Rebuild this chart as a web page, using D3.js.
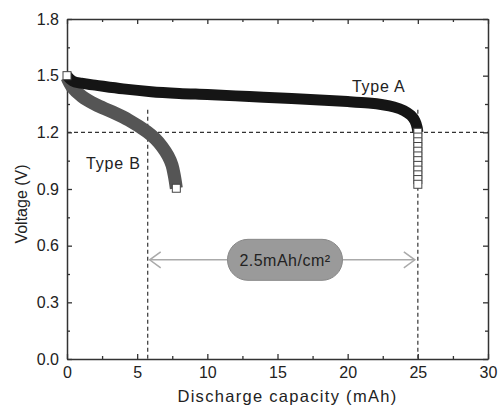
<!DOCTYPE html>
<html>
<head>
<meta charset="utf-8">
<script src="https://cdn.jsdelivr.net/npm/d3@7"></script>
<style>
  body { margin: 0; background: #fff; }
  text { font-family: Arial, "Liberation Sans", sans-serif; fill: #222; }
</style>
</head>
<body>
<div id="chart"></div>
<script>
// discharge curves: [capacity mAh, voltage V]
const typeA = [[0,1.50],[0.4,1.472],[1,1.46],[2,1.45],[4,1.43],[6,1.415],[8,1.406],[10,1.40],
  [12,1.393],[14,1.386],[16,1.379],[18,1.371],[20,1.363],[21.5,1.355],[22.5,1.346],[23.3,1.334],
  [24,1.315],[24.5,1.29],[24.8,1.26],[24.95,1.225],[25,1.2]];
const typeAtail = [1.2,1.175,1.15,1.125,1.1,1.075,1.05,1.025,1.0,0.975,0.95,0.925];
const typeB = [[0,1.49],[0.36,1.44],[1.07,1.39],[2.02,1.348],[3.2,1.309],[4.4,1.265],[5.7,1.203],
  [6.3,1.165],[6.77,1.124],[7.2,1.075],[7.48,1.027],[7.65,0.97],[7.79,0.904]];

const xTicks = [0,5,10,15,20,25,30];
const yTicks = [0.0,0.3,0.6,0.9,1.2,1.5,1.8];
const cutoffV = 1.2;
const capB = 5.75, capA = 25;
const bracketV = 0.525;
const bracketLabel = "2.5mAh/cm²";

const width = 499, height = 414;
const margin = {top: 19, right: 11, bottom: 55, left: 67};

const svg = d3.select("#chart").append("svg")
  .attr("width", width)
  .attr("height", height);

const x = d3.scaleLinear().domain([0, 30]).range([margin.left, width - margin.right]);
const y = d3.scaleLinear().domain([0, 1.8]).range([height - margin.bottom, margin.top]);

const axisCol = "#333";
const xMinor = d3.range(2.5, 30, 5);
const yMinor = d3.range(0.15, 1.8, 0.3);

// inward ticks on all four sides, labels only bottom/left
function drawAxis(gen, scale, majors, minors, transform, showLabels, fmt){
  const g = svg.append("g").attr("transform", transform);
  g.call(gen(scale).tickValues(majors).tickSizeInner(-5).tickSizeOuter(0)
      .tickPadding(8).tickFormat(showLabels ? fmt : ""));
  g.append("g").call(gen(scale).tickValues(minors).tickSizeInner(-3).tickSizeOuter(0).tickFormat(""))
    .select(".domain").remove();
  g.selectAll(".domain").attr("stroke", axisCol).attr("stroke-width", 1.5);
  g.selectAll(".tick line").attr("stroke", axisCol).attr("stroke-width", 1.3);
  g.selectAll("text").style("font-size", "16px").attr("fill", "#222");
  return g;
}

drawAxis(d3.axisBottom, x, xTicks, xMinor, `translate(0,${y(0)})`, true, d3.format("d"));
drawAxis(d3.axisTop, x, xTicks, xMinor, `translate(0,${y(1.8)})`, false);
drawAxis(d3.axisLeft, y, yTicks, yMinor, `translate(${x(0)},0)`, true, d3.format(".1f"));
drawAxis(d3.axisRight, y, yTicks, yMinor, `translate(${x(30)},0)`, false);

// dashed guide lines
const dash = "4,3";
svg.append("line")
  .attr("x1", x(0)).attr("x2", x(30)).attr("y1", y(cutoffV)).attr("y2", y(cutoffV))
  .attr("stroke", "#333").attr("stroke-width", 1.3).attr("stroke-dasharray", dash);
[capB, capA].forEach(c => {
  svg.append("line")
    .attr("x1", x(c)).attr("x2", x(c)).attr("y1", y(1.32)).attr("y2", y(0))
    .attr("stroke", "#444").attr("stroke-width", 1.3).attr("stroke-dasharray", dash);
});

// curves
const line = d3.line().x(d => x(d[0])).y(d => y(d[1])).curve(d3.curveCatmullRom.alpha(0.5));

svg.append("path").datum(typeB)
  .attr("d", line).attr("fill", "none")
  .attr("stroke", "#555").attr("stroke-width", 13);

svg.append("path").datum(typeA)
  .attr("d", line).attr("fill", "none")
  .attr("stroke", "#151515").attr("stroke-width", 11);

// open square markers where they show on their own
const lastB = typeB[typeB.length - 1];
const markers = [[0,1.5], lastB].concat(typeAtail.map(v => [capA, v]));
svg.append("g").selectAll("rect")
  .data(markers)
  .enter()
    .append("rect")
      .attr("x", d => x(d[0]) - 4)
      .attr("y", d => y(d[1]) - 4)
      .attr("width", 8).attr("height", 8)
      .attr("fill", "#fff")
      .attr("stroke", "#444").attr("stroke-width", 1);

// labels
svg.append("text").attr("x", x(1.36)).attr("y", y(1.006))
  .style("font-size", "16px").style("letter-spacing", "0.8px").text("Type B");
svg.append("text").attr("x", x(20.3)).attr("y", y(1.413))
  .style("font-size", "16px").style("letter-spacing", "0.8px").text("Type A");

// bracket arrow with pill
const pillW = 115, pillH = 41;
const pcx = 285, pcy = y(bracketV);
const arrowCol = "#aaa";
const ax1 = x(capB) + 2, ax2 = x(capA) - 3;
svg.append("line").attr("x1", ax1).attr("x2", pcx - pillW/2).attr("y1", pcy).attr("y2", pcy)
  .attr("stroke", arrowCol).attr("stroke-width", 1.5);
svg.append("line").attr("x1", pcx + pillW/2).attr("x2", ax2).attr("y1", pcy).attr("y2", pcy)
  .attr("stroke", arrowCol).attr("stroke-width", 1.5);
svg.append("path")
  .attr("d", `M${ax1 + 11},${pcy - 8}L${ax1},${pcy}L${ax1 + 11},${pcy + 8}`)
  .attr("fill", "none").attr("stroke", arrowCol).attr("stroke-width", 1.5);
svg.append("path")
  .attr("d", `M${ax2 - 11},${pcy - 8}L${ax2},${pcy}L${ax2 - 11},${pcy + 8}`)
  .attr("fill", "none").attr("stroke", arrowCol).attr("stroke-width", 1.5);
svg.append("rect")
  .attr("x", pcx - pillW/2).attr("y", pcy - pillH/2)
  .attr("width", pillW).attr("height", pillH).attr("rx", pillH/2)
  .attr("fill", "#9a9a9a").attr("stroke", "#888").attr("stroke-width", 1);
svg.append("text").attr("x", pcx).attr("y", pcy + 6)
  .attr("text-anchor", "middle").style("font-size", "16px").style("letter-spacing", "0.5px")
  .text(bracketLabel);

// axis titles
svg.append("text")
  .attr("x", (x(0) + x(30)) / 2 + 10).attr("y", 402)
  .attr("text-anchor", "middle").style("font-size", "16.5px").style("letter-spacing", "1.3px")
  .text("Discharge capacity (mAh)");
svg.append("text")
  .attr("transform", `translate(27,204) rotate(-90)`)
  .attr("text-anchor", "middle").style("font-size", "16px")
  .text("Voltage (V)");
</script>
</body>
</html>
